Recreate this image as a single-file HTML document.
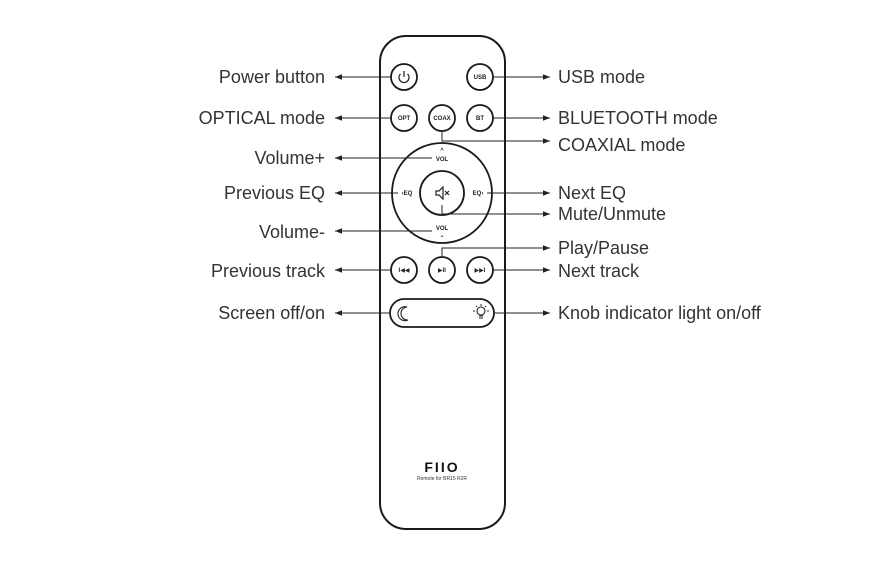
<!DOCTYPE html>
<html><head><meta charset="utf-8"><style>
html,body{margin:0;padding:0;background:#fff;}
svg{display:block;}
text{font-family:"Liberation Sans","DejaVu Sans",sans-serif;}
.l{font-size:18px;fill:#333;}
.b{font-size:6px;font-weight:bold;fill:#222;}
</style></head><body>
<svg width="877" height="561" viewBox="0 0 877 561" xmlns="http://www.w3.org/2000/svg">
<defs>
<marker id="a" viewBox="0 0 10 10" refX="10" refY="5" markerWidth="7" markerHeight="7" orient="auto-start-reverse" markerUnits="userSpaceOnUse"><path d="M0,1 L10,5 L0,9 Z" fill="#222"/></marker>
</defs>
<rect x="380" y="36" width="125" height="493" rx="26" ry="26" fill="#fff" stroke="#1a1a1a" stroke-width="2"/>
<g fill="#fff" stroke="#1a1a1a" stroke-width="1.8">
<circle cx="404" cy="77" r="13"/><circle cx="480" cy="77" r="13"/>
<circle cx="404" cy="118" r="13"/><circle cx="442" cy="118" r="13"/><circle cx="480" cy="118" r="13"/>
<circle cx="442" cy="193" r="50"/><circle cx="442" cy="193" r="22"/>
<circle cx="404" cy="270" r="13"/><circle cx="442" cy="270" r="13"/><circle cx="480" cy="270" r="13"/>
<rect x="390" y="299" width="104" height="28" rx="14"/>
</g>
<path d="M400.5,74 A5,5 0 1 0 407.5,74" fill="none" stroke="#222" stroke-width="1.2"/>
<line x1="404" y1="71" x2="404" y2="77" stroke="#222" stroke-width="1.2"/>
<text class="b" x="480" y="79" text-anchor="middle">USB</text>
<text class="b" x="404" y="120" text-anchor="middle">OPT</text>
<text class="b" x="442" y="120" text-anchor="middle">COAX</text>
<text class="b" x="480" y="120" text-anchor="middle">BT</text>
<text class="b" x="442" y="152" text-anchor="middle">^</text>
<text class="b" x="442" y="161" text-anchor="middle">VOL</text>
<text class="b" x="442" y="230" text-anchor="middle">VOL</text>
<text class="b" x="442" y="237" text-anchor="middle">⌄</text>
<text class="b" x="407" y="195" text-anchor="middle">‹EQ</text>
<text class="b" x="478" y="195" text-anchor="middle">EQ›</text>
<path d="M436,191 L439,191 L443,187 L443,199 L439,195 L436,195 Z" fill="none" stroke="#222" stroke-width="1.2"/>
<path d="M445,191 L449,195 M449,191 L445,195" stroke="#222" stroke-width="1.2"/>
<text class="b" x="404" y="272" text-anchor="middle">I◀◀</text>
<text class="b" x="442" y="272" text-anchor="middle">▶II</text>
<text class="b" x="480" y="272" text-anchor="middle">▶▶I</text>
<path d="M407,307 A7,7 0 1 0 408,320 A6,6 0 0 1 407,307 Z" fill="none" stroke="#222" stroke-width="1.1"/>
<circle cx="481" cy="311" r="4" fill="none" stroke="#222" stroke-width="1.1"/>
<path d="M479,316 h4 M479,318 h4 M481,304 v2 M475,311 h-2 M487,311 h2 M476,306 l1,1 M486,306 l-1,1" stroke="#222" stroke-width="1"/>
<text x="442" y="472" text-anchor="middle" style="font-size:14px;font-weight:bold;letter-spacing:2px;fill:#111">FIIO</text>
<text x="442" y="480" text-anchor="middle" style="font-size:5px;fill:#333">Remote for BR15 R2R</text>
<g stroke="#222" stroke-width="1" fill="none">
<line x1="391" y1="77" x2="335" y2="77" marker-end="url(#a)"/>
<line x1="391" y1="118" x2="335" y2="118" marker-end="url(#a)"/>
<line x1="432" y1="158" x2="335" y2="158" marker-end="url(#a)"/>
<line x1="398" y1="193" x2="335" y2="193" marker-end="url(#a)"/>
<line x1="432" y1="231" x2="335" y2="231" marker-end="url(#a)"/>
<line x1="391" y1="270" x2="335" y2="270" marker-end="url(#a)"/>
<line x1="390" y1="313" x2="335" y2="313" marker-end="url(#a)"/>
<line x1="493" y1="77" x2="550" y2="77" marker-end="url(#a)"/>
<line x1="493" y1="118" x2="550" y2="118" marker-end="url(#a)"/>
<polyline points="442,131 442,141 550,141" marker-end="url(#a)"/>
<line x1="487" y1="193" x2="550" y2="193" marker-end="url(#a)"/>
<polyline points="442,205 442,214 550,214" marker-end="url(#a)"/>
<polyline points="442,257 442,248 550,248" marker-end="url(#a)"/>
<line x1="493" y1="270" x2="550" y2="270" marker-end="url(#a)"/>
<line x1="494" y1="313" x2="550" y2="313" marker-end="url(#a)"/>
</g>
<g class="l" text-anchor="end">
<text x="325" y="83">Power button</text>
<text x="325" y="124">OPTICAL mode</text>
<text x="325" y="164">Volume+</text>
<text x="325" y="199">Previous EQ</text>
<text x="325" y="238">Volume-</text>
<text x="325" y="277">Previous track</text>
<text x="325" y="319">Screen off/on</text>
</g>
<g class="l">
<text x="558" y="83">USB mode</text>
<text x="558" y="124">BLUETOOTH mode</text>
<text x="558" y="151">COAXIAL mode</text>
<text x="558" y="199">Next EQ</text>
<text x="558" y="220">Mute/Unmute</text>
<text x="558" y="254">Play/Pause</text>
<text x="558" y="277">Next track</text>
<text x="558" y="319">Knob indicator light on/off</text>
</g>
</svg>
</body></html>
